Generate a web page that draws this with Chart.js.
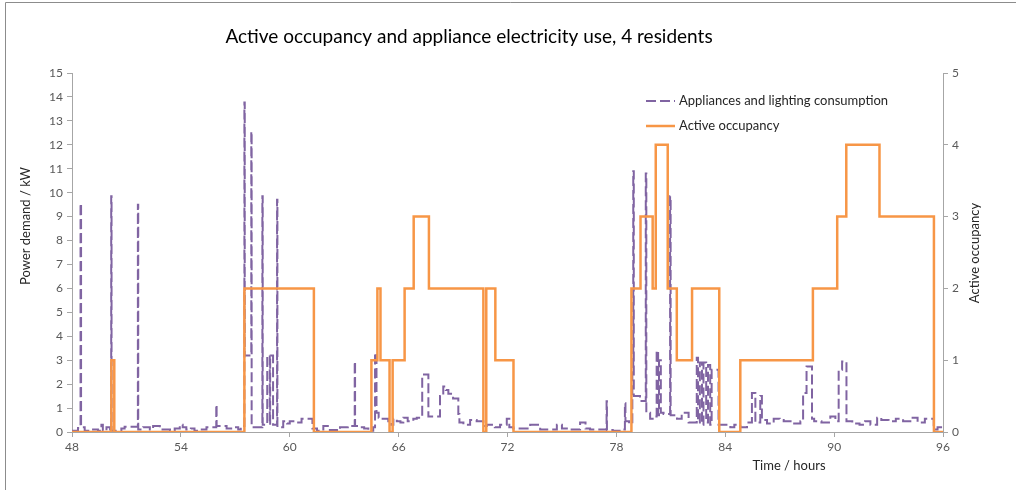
<!DOCTYPE html>
<html>
<head>
<meta charset="utf-8">
<title>Active occupancy and appliance electricity use</title>
<script src="https://cdn.jsdelivr.net/npm/chart.js@4.4.1/dist/chart.umd.min.js"></script>
<style>
  body { margin: 0; background: #fff; }
  #wrap { width: 1016px; height: 490px; }
</style>
</head>
<body>
<div id="wrap"><canvas id="chart" width="1016" height="490"></canvas></div>
<script>
const chartTitle = 'Active occupancy and appliance electricity use, 4 residents';
const xTitle = 'Time / hours';
const yTitle = 'Power demand / kW';
const y2Title = 'Active occupancy';
const seriesNames = ['Appliances and lighting consumption', 'Active occupancy'];

const xTicks = [48, 54, 60, 66, 72, 78, 84, 90, 96];
const powerTicks = [0, 1, 2, 3, 4, 5, 6, 7, 8, 9, 10, 11, 12, 13, 14, 15];
const occupancyTicks = [0, 1, 2, 3, 4, 5];

// active occupancy, value holds from each hour until the next one
const occupancyHours = [48, 50.17, 50.33, 57.5, 61.33, 64.5, 64.83, 65, 65.5, 65.67, 66.33, 66.83, 67.67,
  70.67, 70.83, 71.33, 72.33, 78.83, 79.33, 80, 80.17, 80.83, 81.33, 82.17, 83.67, 84.83, 88.83,
  90.17, 90.67, 92.5, 95.5, 96];
const occupancyLevel = [0, 1, 0, 2, 0, 1, 2, 1, 0, 1, 2, 3, 2,
  0, 2, 1, 0, 2, 3, 2, 4, 2, 1, 2, 0, 1, 2,
  3, 4, 3, 0, 0];

// appliances and lighting demand (kW), same step convention
const applianceHours = [
  48, 48.33, 48.47, 48.5, 48.7, 49.07, 49.43, 49.62, 49.7, 49.9, 50.1, 50.16, 50.18, 50.72, 50.9,
  51.63, 51.65, 51.92, 52.29, 52.47, 52.84, 53.4, 53.66, 53.94, 54.1, 54.3, 54.55, 54.75, 55.04,
  55.41, 55.95, 55.97, 56.52, 56.88, 57.16, 57.3, 57.5, 57.52, 57.88, 57.9, 58.49, 58.51, 58.76,
  58.9, 58.92, 59.08, 59.3, 59.32, 59.64, 59.85, 60, 60.3, 60.65, 61.25, 61.5, 61.85, 62.21, 62.6,
  62.77, 63.2, 63.58, 63.6, 63.9, 64.1, 64.33, 64.6, 64.7, 64.78, 64.9, 64.97, 65.43, 65.6, 65.71,
  65.9, 66.1, 66.26, 66.5, 66.81, 67, 67.3, 67.64, 68.28, 68.46, 68.6, 68.74, 69, 69.29, 69.35,
  69.57, 69.94, 70.3, 70.67, 70.86, 71.3, 71.59, 71.96, 72.1, 72.32, 73.25, 73.8, 74.72, 75, 75.27,
  76, 76.3, 76.55, 77.46, 77.48, 77.8, 78.3, 78.47, 78.5, 78.7, 78.88, 78.93, 78.96, 79.3, 79.62,
  79.65, 79.86, 80, 80.22, 80.3, 80.35, 80.45, 80.6, 80.96, 80.99, 81.34, 81.6, 81.98, 82.43, 82.5,
  82.6, 82.72, 82.8, 82.95, 83.05, 83.17, 83.25, 83.63, 84.28, 84.5, 84.83, 85.2, 85.47, 85.66,
  85.93, 86.02, 86.3, 86.67, 87, 87.22, 87.6, 88.14, 88.29, 88.48, 88.78, 88.9, 89.3, 89.79, 90.07,
  90.25, 90.44, 90.68, 91, 91.4, 91.7, 92, 92.37, 92.6, 93, 93.4, 93.8, 94.2, 94.6, 95, 95.49,
  95.7, 96];
const applianceKw = [
  0.05, 0.17, 9.55, 0.2, 0.05, 0.1, 0.05, 0.3, 0.05, 0.2, 0.05, 9.85, 0.05, 0.15, 0.22,
  9.5, 0.1, 0.2, 0.1, 0.25, 0.1, 0.05, 0.15, 0.3, 0.2, 0.1, 0.15, 0.05, 0.1,
  0.2, 1.14, 0.25, 0.15, 0.2, 0.1, 0.25, 13.77, 3.2, 12.56, 0.2, 9.85, 0.3, 3.2,
  0.3, 3.2, 0.3, 9.7, 0.2, 0.45, 0.35, 0.45, 0.4, 0.55, 0.15, 0.05, 0.25, 0.08, 0.05,
  0.2, 0.25, 2.95, 0.25, 0.2, 0.15, 0.05, 0.2, 3.3, 0.8, 0.6, 0.55, 0.45, 0.3, 0.55,
  0.45, 0.4, 0.6, 0.45, 0.55, 0.6, 2.4, 0.65, 1.5, 1.9, 1.75, 1.6, 1.4, 0.75, 0.4,
  0.3, 0.5, 0.45, 0.25, 0.3, 0.2, 0.3, 0.55, 0.2, 0.15, 0.3, 0.1, 0.3, 0.15, 0.1,
  0.4, 0.15, 0.1, 1.28, 0.08, 0.05, 0.1, 1.2, 0.45, 0.35, 2.6, 10.9, 1.5, 1.3, 10.8,
  0.8, 0.55, 0.65, 3.4, 0.7, 3.0, 0.8, 0.75, 9.85, 0.7, 0.55, 0.8, 0.4, 3.1, 0.4,
  2.9, 0.3, 2.9, 0.4, 2.8, 0.3, 2.6, 0.3, 0.2, 0.3, 0.2, 0.4, 1.63, 0.4,
  1.5, 0.5, 0.35, 0.55, 0.5, 0.45, 0.35, 0.45, 1.63, 2.74, 0.55, 0.45, 0.4, 0.65, 0.45,
  2.6, 2.95, 0.45, 0.35, 0.3, 0.45, 0.3, 0.6, 0.5, 0.45, 0.55, 0.45, 0.6, 0.4, 0.55, 0.1,
  0.2, 0.15];

const purple = '#8064a2';
const orange = '#f79646';
const axisGrey = '#a6a6a6';
const labelGrey = '#595959';
const fontName = 'Lato, "Liberation Sans", sans-serif';

const toTicks = list => scale => { scale.ticks = list.map(v => ({ value: v })); };

// title, axis titles, legend and frame drawn on top of the chart
const decorations = {
  id: 'decorations',
  afterDraw(chart) {
    const ctx = chart.ctx;
    ctx.save();
    ctx.strokeStyle = '#8c8c8c';
    ctx.lineWidth = 1;
    ctx.beginPath();
    ctx.moveTo(5.5, 490);
    ctx.lineTo(5.5, 2.5);
    ctx.lineTo(1016, 2.5);
    ctx.stroke();

    ctx.fillStyle = '#000';
    ctx.textBaseline = 'middle';
    ctx.textAlign = 'center';
    ctx.font = '19px ' + fontName;
    ctx.fillText(chartTitle, 469, 37);

    ctx.fillStyle = '#262626';
    ctx.font = '13px ' + fontName;
    ctx.fillText(xTitle, 789, 466);

    ctx.save();
    ctx.translate(26, 226);
    ctx.rotate(-Math.PI / 2);
    ctx.fillText(yTitle, 0, 0);
    ctx.restore();

    ctx.save();
    ctx.translate(975, 253);
    ctx.rotate(-Math.PI / 2);
    ctx.fillText(y2Title, 0, 0);
    ctx.restore();

    ctx.textAlign = 'left';
    chart.data.datasets.forEach((ds, i) => {
      const y = 101 + i * 25;
      ctx.beginPath();
      ctx.strokeStyle = ds.borderColor;
      ctx.lineWidth = ds.borderWidth;
      ctx.setLineDash(ds.borderDash || []);
      ctx.moveTo(646, y);
      ctx.lineTo(675, y);
      ctx.stroke();
      ctx.setLineDash([]);
      ctx.fillText(ds.label, 679, y);
    });
    ctx.restore();
  }
};

new Chart(document.getElementById('chart'), {
  type: 'line',
  data: {
    datasets: [
      {
        label: seriesNames[0],
        data: applianceHours.map((h, i) => ({ x: h, y: applianceKw[i] })),
        yAxisID: 'y',
        borderColor: purple,
        borderWidth: 2,
        borderDash: [10, 4],
        stepped: true,
        pointRadius: 0,
        order: 1
      },
      {
        label: seriesNames[1],
        data: occupancyHours.map((h, i) => ({ x: h, y: occupancyLevel[i] })),
        yAxisID: 'y2',
        borderColor: orange,
        borderWidth: 2.5,
        stepped: true,
        pointRadius: 0,
        order: 0
      }
    ]
  },
  options: {
    responsive: false,
    animation: false,
    devicePixelRatio: 1,
    layout: { padding: { top: 73, left: 0, right: 0, bottom: 0 } },
    plugins: {
      legend: { display: false },
      title: { display: false },
      tooltip: { enabled: false }
    },
    scales: {
      x: {
        type: 'linear',
        min: 48,
        max: 96,
        afterBuildTicks: toTicks(xTicks),
        afterFit: s => { s.height = 58; },
        grid: { drawOnChartArea: false, drawTicks: true, tickLength: 5, color: axisGrey },
        border: { color: axisGrey },
        ticks: { color: labelGrey, font: { family: fontName, size: 12 }, padding: 3, maxRotation: 0 }
      },
      y: {
        position: 'left',
        min: 0,
        max: 15,
        afterBuildTicks: toTicks(powerTicks),
        afterFit: s => { s.width = 72; },
        grid: { drawOnChartArea: false, drawTicks: true, tickLength: 5, color: axisGrey },
        border: { color: axisGrey },
        ticks: { color: labelGrey, font: { family: fontName, size: 12 }, padding: 4 }
      },
      y2: {
        position: 'right',
        min: 0,
        max: 5,
        afterBuildTicks: toTicks(occupancyTicks),
        afterFit: s => { s.width = 73; },
        grid: { drawOnChartArea: false, drawTicks: true, tickLength: 5, color: axisGrey },
        border: { color: axisGrey },
        ticks: { color: labelGrey, font: { family: fontName, size: 12 }, padding: 4 }
      }
    }
  },
  plugins: [decorations]
});
</script>
</body>
</html>
